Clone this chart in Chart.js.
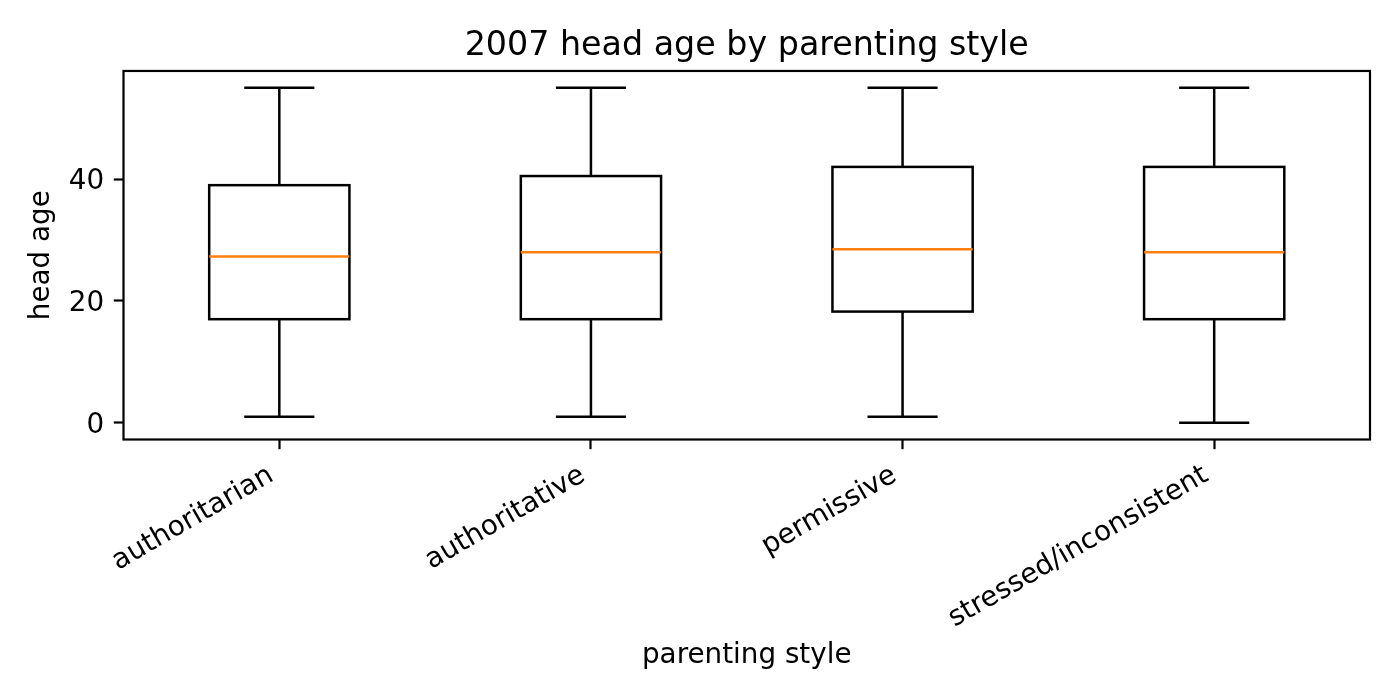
<!DOCTYPE html>
<html>
<head>
<meta charset="utf-8">
<script src="https://cdn.jsdelivr.net/npm/chart.js@4/dist/chart.umd.min.js"></script>
<style>
  html, body { margin: 0; padding: 0; background: #ffffff; }
  #wrap { width: 1400px; height: 700px; }
</style>
</head>
<body>
<div id="wrap"><canvas id="c" width="1400" height="700"></canvas></div>
<script>
// ---- data ----
const categories = ['authoritarian', 'authoritative', 'permissive', 'stressed/inconsistent'];
const whiskerLow  = [1, 1, 1, 0];
const q1          = [17, 17, 18.25, 17];
const median      = [27.3, 28, 28.5, 28];
const q3          = [39, 40.5, 42, 42];
const whiskerHigh = [55, 55, 55, 55];
const yTicks      = [0, 20, 40];
const chartTitle  = '2007 head age by parenting style';
const xTitle      = 'parenting style';
const yTitle      = 'head age';

// ---- styling ----
const FONT = 'DejaVu Sans';
const BOX_WIDTH = 0.45;      // box width in category units
const LINE_W = 2.5;
const FRAME_W = 2.2;
const MEDIAN_COLOR = '#ff7f0e';

Chart.defaults.font.family = FONT;
Chart.defaults.color = '#000000';

const boxPlugin = {
  id: 'boxParts',
  afterDatasetsDraw(chart) {
    const { ctx, scales: { x, y } } = chart;
    const meta = chart.getDatasetMeta(0);
    const unit = x.getPixelForValue(1) - x.getPixelForValue(0);
    const halfBox = unit * BOX_WIDTH / 2;
    const halfCap = halfBox / 2;
    ctx.save();
    ctx.lineCap = 'butt';
    ctx.lineJoin = 'miter';
    for (let i = 0; i < categories.length; i++) {
      const cx = x.getPixelForValue(i);
      ctx.strokeStyle = '#000000';
      ctx.lineWidth = LINE_W;
      // box outline, centred on the bar element's edges
      const bar = meta.data[i];
      const top = Math.min(bar.y, bar.base);
      const bottom = Math.max(bar.y, bar.base);
      ctx.strokeRect(bar.x - bar.width / 2, top, bar.width, bottom - top);
      // whiskers
      ctx.beginPath();
      ctx.moveTo(cx, y.getPixelForValue(q3[i]));
      ctx.lineTo(cx, y.getPixelForValue(whiskerHigh[i]));
      ctx.moveTo(cx, y.getPixelForValue(q1[i]));
      ctx.lineTo(cx, y.getPixelForValue(whiskerLow[i]));
      ctx.stroke();
      // caps
      ctx.beginPath();
      const yh = y.getPixelForValue(whiskerHigh[i]);
      const yl = y.getPixelForValue(whiskerLow[i]);
      ctx.moveTo(cx - halfCap, yh); ctx.lineTo(cx + halfCap, yh);
      ctx.moveTo(cx - halfCap, yl); ctx.lineTo(cx + halfCap, yl);
      ctx.stroke();
      // median
      ctx.strokeStyle = MEDIAN_COLOR;
      ctx.beginPath();
      const ym = y.getPixelForValue(median[i]);
      ctx.moveTo(cx - halfBox, ym); ctx.lineTo(cx + halfBox, ym);
      ctx.stroke();
    }
    ctx.restore();
  },
  afterDraw(chart) {
    const { ctx, chartArea: a } = chart;
    ctx.save();
    ctx.strokeStyle = '#000000';
    ctx.lineWidth = FRAME_W;
    ctx.strokeRect(a.left, a.top, a.right - a.left, a.bottom - a.top);
    ctx.restore();
  }
};

new Chart(document.getElementById('c'), {
  type: 'bar',
  data: {
    labels: categories,
    datasets: [{
      label: 'box',
      data: q1.map((v, i) => [v, q3[i]]),
      backgroundColor: 'rgba(255,255,255,0)',
      borderColor: 'rgba(0,0,0,0)',
      borderWidth: 0,
      borderSkipped: false,
      barPercentage: BOX_WIDTH,
      categoryPercentage: 1.0
    }]
  },
  options: {
    responsive: false,
    animation: false,
    devicePixelRatio: 1,
    layout: { padding: { left: 0, right: 30, top: 0, bottom: 0 } },
    plugins: {
      legend: { display: false },
      tooltip: { enabled: false },
      title: {
        display: true,
        text: chartTitle,
        fullSize: false,
        color: '#000000',
        font: { family: FONT, size: 33.3, weight: 'normal', lineHeight: 1.2 },
        padding: { top: 26, bottom: 5 }
      }
    },
    scales: {
      x: {
        type: 'category',
        offset: true,
        border: { display: false },
        grid: {
          offset: false,
          drawOnChartArea: false,
          drawTicks: true,
          tickLength: 9.7,
          tickWidth: FRAME_W,
          tickColor: '#000000'
        },
        ticks: {
          autoSkip: false,
          minRotation: 30,
          maxRotation: 30,
          padding: 9.7,
          labelOffset: -8,
          color: '#000000',
          font: { family: FONT, size: 27.8 }
        },
        title: {
          display: true,
          text: xTitle,
          color: '#000000',
          font: { family: FONT, size: 27.8, lineHeight: 1.2 },
          padding: { top: 0, bottom: 27.9 }
        },
        afterFit(scale) { scale.height = 260.5; }
      },
      y: {
        type: 'linear',
        min: -2.75,
        max: 57.75,
        border: { display: false },
        grid: {
          drawOnChartArea: false,
          drawTicks: true,
          tickLength: 9.7,
          tickWidth: FRAME_W,
          tickColor: '#000000'
        },
        ticks: {
          padding: 9.7,
          labelOffset: 3,
          color: '#000000',
          font: { family: FONT, size: 27.8 }
        },
        afterBuildTicks(scale) { scale.ticks = yTicks.map(v => ({ value: v })); },
        title: {
          display: true,
          text: yTitle,
          color: '#000000',
          font: { family: FONT, size: 27.8, lineHeight: 1.2 },
          padding: { top: 25.5, bottom: 0 }
        },
        afterFit(scale) { scale.width = 123.5; }
      }
    }
  },
  plugins: [boxPlugin]
});
</script>
</body>
</html>
